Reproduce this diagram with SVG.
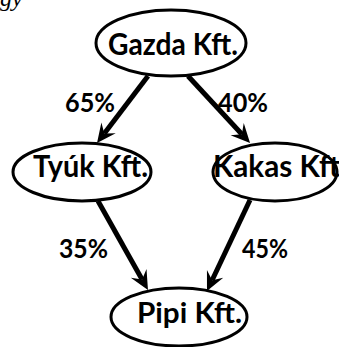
<svg xmlns="http://www.w3.org/2000/svg" width="339" height="347" viewBox="0 0 339 347">
  <style>
    .node ellipse { fill: #ffffff; stroke: #000000; stroke-width: 3; }
    .label { font-family: Lato, "Open Sans", "Liberation Sans", sans-serif; font-weight: 700; fill: #000000; }
    .edge { stroke: #000000; stroke-width: 5; fill: none; marker-end: url(#arrow); }
    .pct { font-family: Lato, "Open Sans", "Liberation Sans", sans-serif; font-weight: 700; font-size: 27px; fill: #000000; }
    .frag { font-family: "Liberation Serif", serif; font-style: italic; font-size: 24px; fill: #000000; }
  </style>
  <defs>
    <!-- barbed arrowhead; tip sits 12px beyond the end of the shaft -->
    <marker id="arrow" markerUnits="userSpaceOnUse" markerWidth="40" markerHeight="40"
            viewBox="-20 -20 40 40" refX="0" refY="0" orient="auto" overflow="visible">
      <path d="M12,0 L-7,-9 L0,0 L-7,9 Z" fill="#000000"/>
    </marker>
  </defs>

  <rect width="339" height="347" fill="#ffffff"/>

  <!-- caption fragment running off the top edge -->
  <text class="frag" x="0" y="6">gy</text>

  <g id="connectors">
    <path class="edge" d="M148,76 L104.3,133.4"/>
    <path class="edge" d="M188,76 L241.9,134.2"/>
    <path class="edge" d="M98,201 L142.1,279.5"/>
    <path class="edge" d="M250,200 L212.1,280.2"/>
    <text class="pct" x="65" y="112" textLength="50" lengthAdjust="spacingAndGlyphs">65%</text>
    <text class="pct" x="218" y="112" textLength="50" lengthAdjust="spacingAndGlyphs">40%</text>
    <text class="pct" x="59" y="258" textLength="49" lengthAdjust="spacingAndGlyphs">35%</text>
    <text class="pct" x="242" y="258" textLength="46" lengthAdjust="spacingAndGlyphs">45%</text>
  </g>

  <g id="gazda" class="node">
    <ellipse cx="171" cy="43" rx="75" ry="33"/>
    <text class="label" x="108" y="55" font-size="30" textLength="130" lengthAdjust="spacingAndGlyphs">Gazda Kft.</text>
  </g>

  <g id="tyuk" class="node">
    <ellipse cx="82" cy="172" rx="69" ry="29"/>
    <text class="label" x="33" y="177" font-size="30" textLength="115" lengthAdjust="spacingAndGlyphs">Tyúk Kft.</text>
  </g>

  <g id="kakas" class="node">
    <ellipse cx="275" cy="172" rx="62" ry="29"/>
    <text class="label" x="213" y="177" font-size="30" textLength="134" lengthAdjust="spacingAndGlyphs">Kakas Kft.</text>
  </g>

  <g id="pipi" class="node">
    <ellipse cx="179" cy="317" rx="68" ry="29"/>
    <text class="label" x="137" y="323" font-size="28" textLength="105" lengthAdjust="spacingAndGlyphs">Pipi Kft.</text>
  </g>
</svg>
